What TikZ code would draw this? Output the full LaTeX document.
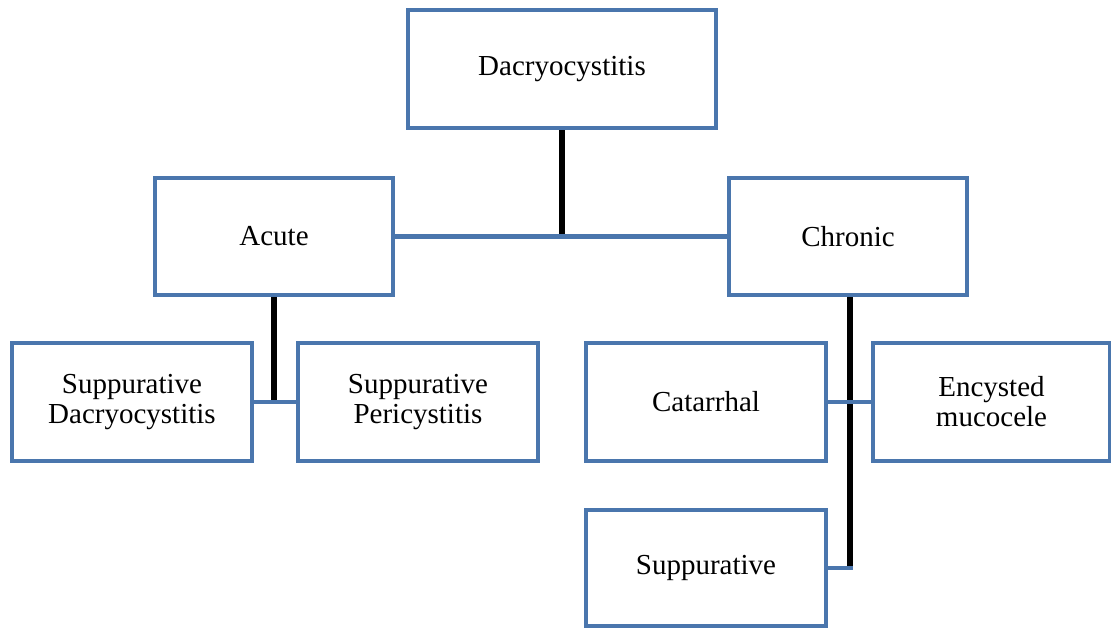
\documentclass[tikz,border=0pt]{standalone}
\usepackage{fontspec}
\setmainfont{Liberation Serif}
\usepackage{tikz}
\usetikzlibrary{positioning}
\definecolor{boxblue}{HTML}{4A76AD}

\begin{document}
\begin{tikzpicture}[x=1pt,y=-1pt,
        box/.style={draw=boxblue,line width=4.5pt,fill=white,align=center,inner sep=0pt,
            font=\fontsize{29}{30}\selectfont},
        blk/.style={black,line width=6pt},
        blu/.style={boxblue,line width=4.5pt}]
        \useasboundingbox (0,0) rectangle (1111,628);
        \node[box,minimum width=308pt,minimum height=118pt] (dacryo) at (562,69) {Dacryocystitis};
        \node[box,minimum width=238pt,minimum height=117pt] (acute) at (274,236.5) {Acute};
        \node[box,minimum width=238pt,minimum height=117pt] (chronic) at (848,236.5) {Chronic};
        \node[box,minimum width=240pt,minimum height=118pt] (suppdac) at (132,402) {Suppurative\\Dacryocystitis};
        \node[box,minimum width=240pt,minimum height=118pt] (suppperi) at (418,402) {Suppurative\\Pericystitis};
        \node[box,minimum width=240pt,minimum height=118pt] (catarrhal) at (706,402) {Catarrhal};
        \node[box,minimum width=237pt,minimum height=118pt] (encysted) at (991.5,402) {Encysted\\mucocele};
        \node[box,minimum width=240pt,minimum height=116pt] (suppur) at (706,568) {Suppurative};
        \coordinate (topjoin) at (562,236);
        \coordinate (leftjoin) at (274,403);
        \coordinate (rightend) at (850,568);
        \draw[blk] (dacryo.south) -- (topjoin);
        \draw[blk] (acute.south) -- (leftjoin);
        \draw[blk] (chronic.south -| rightend) -- (rightend);
        \draw[blu] (acute.east) -- (chronic.west);
        \draw[blu] (suppdac.east) -- (suppperi.west);
        \draw[blu] (catarrhal.east) -- (encysted.west);
        \draw[blu] (suppur.east) -- ([xshift=3pt]rightend);
    \end{tikzpicture}
\end{document}
